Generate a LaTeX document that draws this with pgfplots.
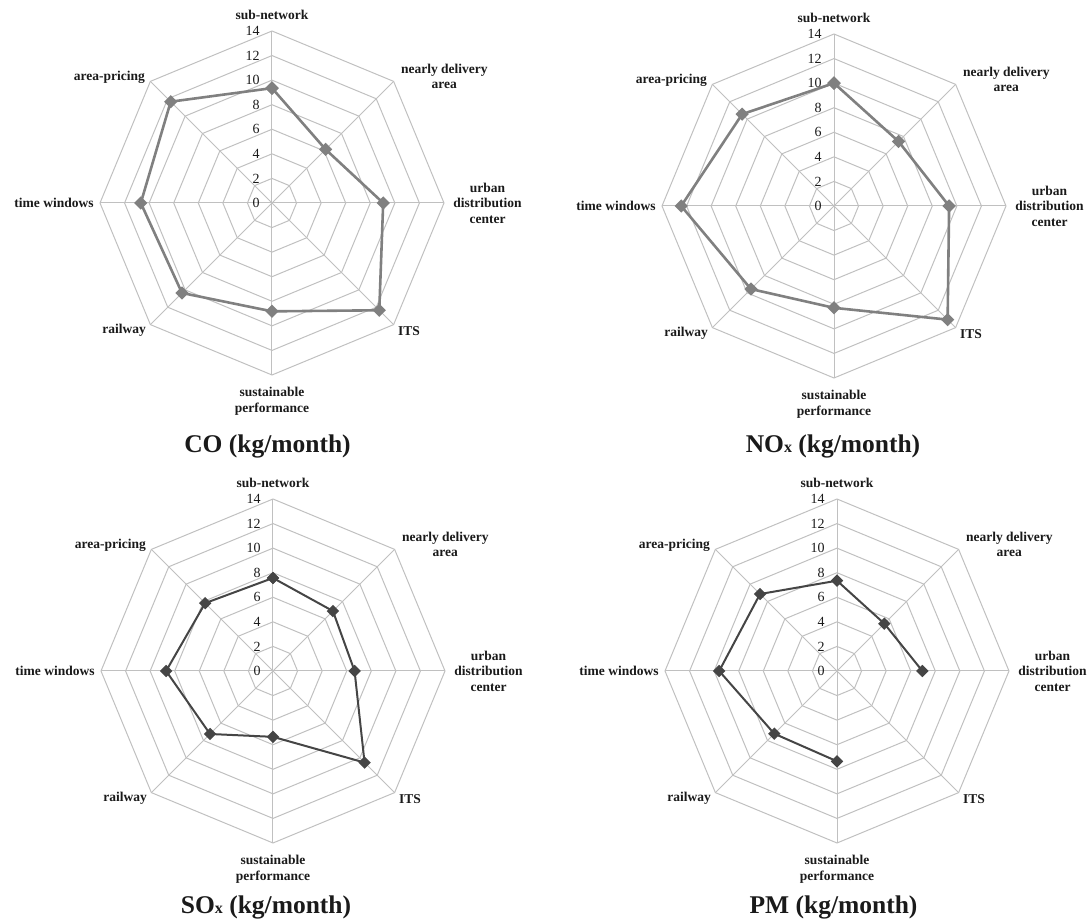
\documentclass[border=0pt]{standalone}
\usepackage{pgfplots}
\pgfplotsset{compat=1.18}
\usepgfplotslibrary{polar}
\usepackage{fontspec}
\setmainfont{Liberation Serif}

\definecolor{gridc}{HTML}{C0C0C0}
\definecolor{lightline}{HTML}{808080}
\definecolor{darkline}{HTML}{454545}
\definecolor{txt}{HTML}{1A1A1A}

% 1 px of the reference = 0.5pt
\pgfplotsset{
  radar/.style={
    scale only axis, width=172pt, height=172pt,
    xmin=0, xmax=360, ymin=0, ymax=14,
    hide axis, clip=false, anchor=center,
  },
}
\tikzset{
  catlabel/.style={font=\fontsize{6.75}{7.8}\selectfont\bfseries, text=txt, inner sep=0pt, align=center},
  charttitle/.style={font=\fontsize{12.75}{14}\selectfont\bfseries, anchor=base, text=txt},
}

\newcommand{\radargrid}{%
  \pgfplotsinvokeforeach{2,4,...,14}{%
    \draw[gridc, line width=0.5pt] (axis cs:0,##1) -- (axis cs:45,##1) -- (axis cs:90,##1)
      -- (axis cs:135,##1) -- (axis cs:180,##1) -- (axis cs:225,##1) -- (axis cs:270,##1)
      -- (axis cs:315,##1) -- cycle;
  }
  \pgfplotsinvokeforeach{0,45,...,315}{%
    \draw[gridc, line width=0.5pt] (axis cs:0,0) -- (axis cs:##1,14);
  }
  \pgfplotsinvokeforeach{0,2,...,14}{%
    \node[anchor=east, inner sep=0pt, xshift=-6pt, font=\fontsize{7}{8}\selectfont, text=txt]
      at (axis cs:90,##1) {##1};
  }
  \node[catlabel, anchor=base, yshift=5.5pt] at (axis cs:90,14) {sub-network};
  \node[catlabel, anchor=west, xshift=3.5pt, yshift=2.5pt] at (axis cs:45,14) {nearly delivery\\area};
  \node[catlabel, anchor=west, xshift=4.5pt] at (axis cs:0,14) {urban\\distribution\\center};
  \node[catlabel, anchor=west, xshift=2pt, yshift=-3pt] at (axis cs:315,14) {ITS};
  \node[catlabel, anchor=north, yshift=-6pt] at (axis cs:270,14) {sustainable\\performance};
  \node[catlabel, anchor=east, xshift=-2pt, yshift=-3pt] at (axis cs:225,14) {railway};
  \node[catlabel, anchor=east, xshift=-3pt] at (axis cs:180,14) {time windows};
  \node[catlabel, anchor=east, xshift=-2.5pt, yshift=2pt] at (axis cs:135,14) {area-pricing};
}

\begin{document}
\begin{tikzpicture}
\useasboundingbox (0,0) rectangle (544pt,460.5pt);

% CO
\begin{polaraxis}[radar, at={(136pt,359pt)}]
\radargrid
\addplot[lightline, line width=1.3pt, mark=square*, mark size=1.7pt, mark options={rotate=45}]
  coordinates {(90,9.35) (45,6.17) (0,9.05) (-45,12.35) (-90,8.82) (-135,10.36) (-180,10.68) (-225,11.66) (-270,9.35)};
\end{polaraxis}
\node[charttitle] at (133.75pt,234pt) {CO (kg/month)};

% NOx
\begin{polaraxis}[radar, at={(417pt,357.5pt)}]
\radargrid
\addplot[lightline, line width=1.3pt, mark=square*, mark size=1.7pt, mark options={rotate=45}]
  coordinates {(90,10.0) (45,7.43) (0,9.37) (-45,13.08) (-90,8.29) (-135,9.56) (-180,12.44) (-225,10.57) (-270,10.0)};
\end{polaraxis}
\node[charttitle] at (416.5pt,234pt) {NO{\fontsize{8}{9}\selectfont x} (kg/month)};

% SOx
\begin{polaraxis}[radar, at={(136.5pt,125pt)}]
\radargrid
\addplot[darkline, line width=1pt, mark=square*, mark size=1.7pt, mark options={rotate=45}]
  coordinates {(90,7.57) (45,6.9) (0,6.64) (-45,10.54) (-90,5.36) (-135,7.25) (-180,8.7) (-225,7.81) (-270,7.57)};
\end{polaraxis}
\node[charttitle] at (133pt,3.5pt) {SO{\fontsize{8}{9}\selectfont x} (kg/month)};

% PM (no value for ITS)
\begin{polaraxis}[radar, at={(418.5pt,125pt)}]
\radargrid
\addplot[darkline, line width=1pt, mark=square*, mark size=1.7pt, mark options={rotate=45}]
  coordinates {(-90,7.35) (-135,7.22) (-180,9.59) (-225,8.86) (-270,7.35) (-315,5.45) (-360,6.95)};
\end{polaraxis}
\node[charttitle] at (416.75pt,3.5pt) {PM (kg/month)};
\end{tikzpicture}
\end{document}
